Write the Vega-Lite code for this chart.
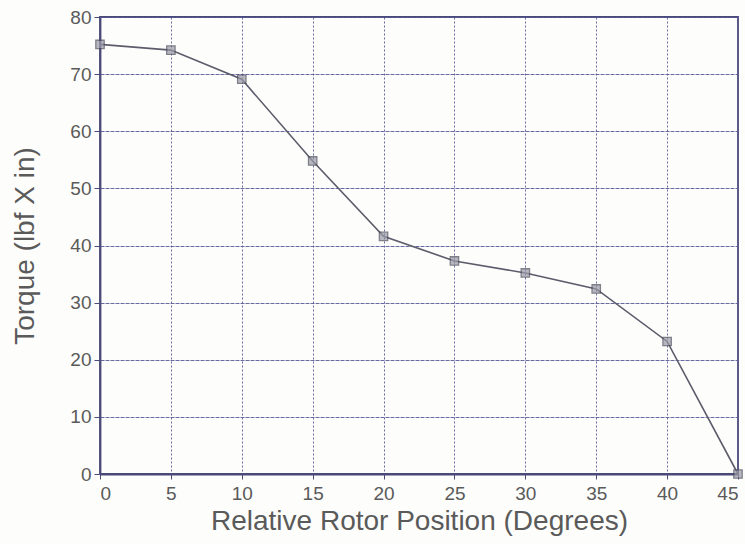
{
  "$schema": "https://vega.github.io/schema/vega-lite/v6.json",
  "width": 638,
  "height": 457,
  "autosize": "none",
  "padding": {"left": 100, "top": 17, "right": 7, "bottom": 70},
  "background": "#fdfdfb",
  "config": {
    "view": {"stroke": "#4a4a78", "strokeWidth": 1.8},
    "font": "Liberation Sans"
  },
  "data": {
    "values": [
      {"pos": 0, "torque": 75.2},
      {"pos": 5, "torque": 74.2},
      {"pos": 10, "torque": 69.1},
      {"pos": 15, "torque": 54.8},
      {"pos": 20, "torque": 41.6},
      {"pos": 25, "torque": 37.3},
      {"pos": 30, "torque": 35.2},
      {"pos": 35, "torque": 32.4},
      {"pos": 40, "torque": 23.2},
      {"pos": 45, "torque": 0}
    ]
  },
  "layer": [
    {
      "mark": {"type": "line", "color": "#5c5c6c", "strokeWidth": 1.6},
      "encoding": {
        "x": {
          "field": "pos", "type": "quantitative",
          "scale": {"domain": [0, 45], "nice": false},
          "axis": {
            "title": "Relative Rotor Position (Degrees)",
            "values": [0, 5, 10, 15, 20, 25, 30, 35, 40, 45],
            "grid": true, "gridDash": [2, 2], "gridColor": "#5a5a98", "gridOpacity": 0.9,
            "domainColor": "#4a4a78", "domainWidth": 1.8, "tickColor": "#4a4a78", "tickSize": 5,
            "labelFontSize": 19, "labelColor": "#5a5a5a", "labelPadding": 5,
            "titleFontSize": 28, "titleColor": "#5a5a5a", "titleFontWeight": "normal", "titlePadding": 4
          }
        },
        "y": {
          "field": "torque", "type": "quantitative",
          "scale": {"domain": [0, 80], "nice": false},
          "axis": {
            "title": "Torque (lbf X in)",
            "values": [0, 10, 20, 30, 40, 50, 60, 70, 80],
            "grid": true, "gridDash": [4, 1], "gridColor": "#5a5a98", "gridOpacity": 0.9,
            "domainColor": "#4a4a78", "domainWidth": 1.8, "tickColor": "#4a4a78", "tickSize": 6,
            "labelFontSize": 19, "labelColor": "#5a5a5a", "labelPadding": 3,
            "titleFontSize": 28, "titleColor": "#5a5a5a", "titleFontWeight": "normal", "titlePadding": 30
          }
        }
      }
    },
    {
      "mark": {"type": "point", "shape": "square", "size": 70, "filled": true, "color": "#9a9aa8", "stroke": "#4c4c5c", "strokeWidth": 1.3},
      "encoding": {
        "x": {"field": "pos", "type": "quantitative"},
        "y": {"field": "torque", "type": "quantitative"}
      }
    }
  ]
}
